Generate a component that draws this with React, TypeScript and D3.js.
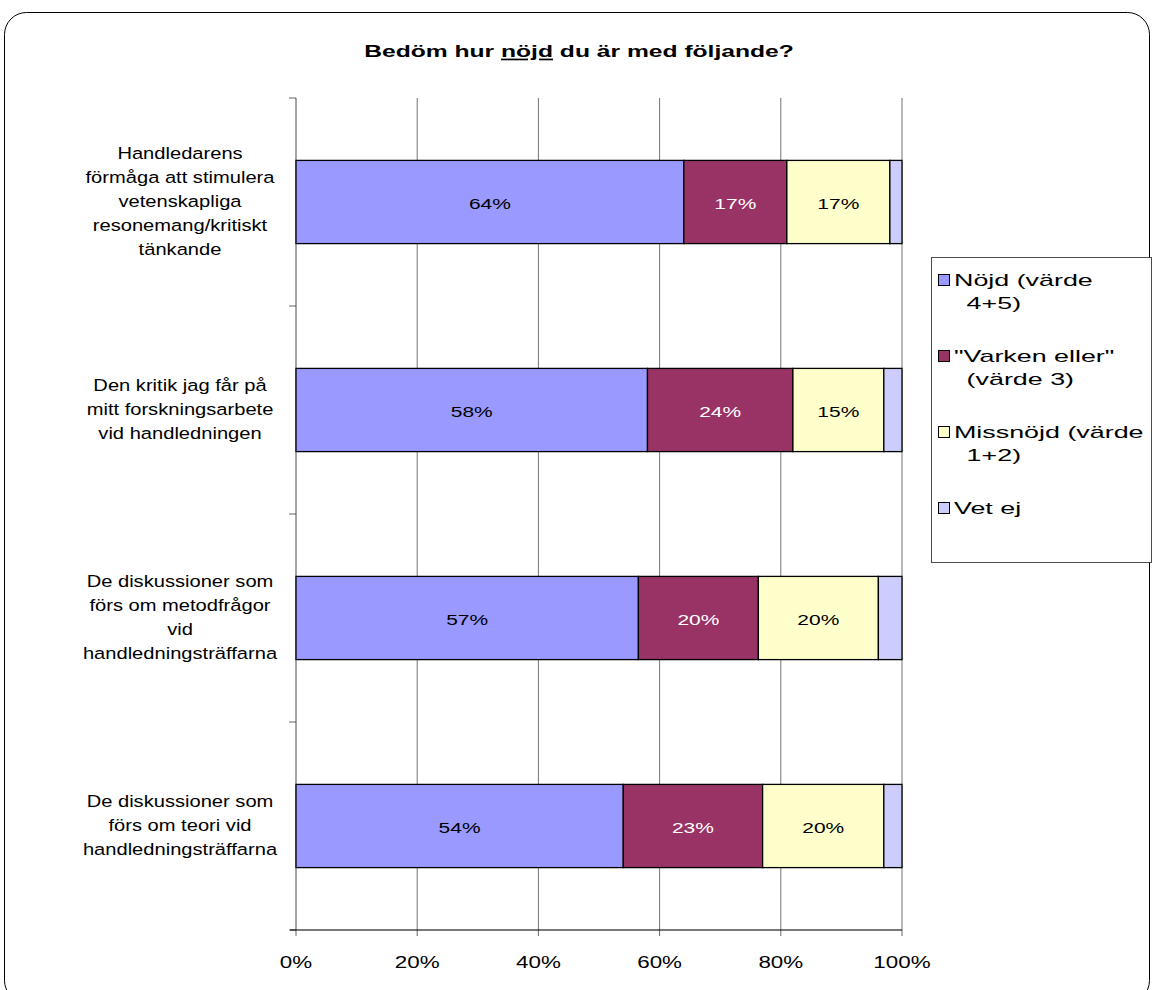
import { useEffect } from "react";
import * as d3 from "d3";

const categories = [
  ["Handledarens", "förmåga att stimulera", "vetenskapliga", "resonemang/kritiskt", "tänkande"],
  ["Den kritik jag får på", "mitt forskningsarbete", "vid handledningen"],
  ["De diskussioner som", "förs om metodfrågor", "vid", "handledningsträffarna"],
  ["De diskussioner som", "förs om teori vid", "handledningsträffarna"],
];
const nojd = [64, 58, 56.5, 54];
const varken = [17, 24, 19.8, 23];
const missnojd = [17, 15, 19.8, 20];
const vetEj = [2, 3, 3.9, 3];

const seriesNames = [["Nöjd (värde", "4+5)"], ['"Varken eller"', "(värde 3)"], ["Missnöjd (värde", "1+2)"], ["Vet ej"]];
const seriesColors = ["#9999FF", "#993366", "#FFFFCC", "#CCCCFF"];
const ticks = [0, 20, 40, 60, 80, 100];

const W = 1154, H = 990;
const left = 296, right = 902, top = 98, bottom = 930;
const font = "Arial, 'Liberation Sans', sans-serif";

// the original picture has its text stretched sideways, so widen it with a scale
function SText({ x, y, sx, anchor = "middle", size = 16, weight = "normal", fill = "#000", children }: any) {
  return (
    <text transform={`translate(${x},${y}) scale(${sx},1)`} textAnchor={anchor} fontFamily={font}
      fontSize={size} fontWeight={weight} fill={fill}>{children}</text>
  );
}

export default function App() {
  useEffect(() => { document.body.style.margin = "0"; }, []);

  const x = d3.scaleLinear().domain([0, 100]).range([left, right]);
  const y = d3.scaleBand<number>().domain(d3.range(categories.length)).range([top, bottom])
    .paddingInner(0.6).paddingOuter(0.3);
  const rows = categories.map((_, i) => ({ i, s0: nojd[i], s1: varken[i], s2: missnojd[i], s3: vetEj[i] }));
  const stacked = d3.stack<any>().keys(["s0", "s1", "s2", "s3"])(rows);
  const step = y.step();

  return (
    <svg width={W} height={H} style={{ display: "block", background: "#fff" }}>
      <rect x={4.5} y={12.5} width={1145} height={990} rx={22} fill="#fff" stroke="#000" strokeWidth={1} />
      <SText x={579} y={57} sx={1.45} size={17} weight="bold">
        Bedöm hur <tspan textDecoration="underline">nöjd</tspan> du är med följande?
      </SText>

      {/* gridlines */}
      {ticks.slice(1).map(t => (
        <line key={t} x1={x(t)} x2={x(t)} y1={top} y2={bottom} stroke="#000" strokeOpacity={0.55} />
      ))}
      <line x1={left} x2={left} y1={top} y2={bottom} stroke="#000" strokeOpacity={0.7} />
      <line x1={left - 6} x2={right} y1={bottom} y2={bottom} stroke="#000" strokeOpacity={0.7} strokeWidth={1.5} />
      {d3.range(categories.length + 1).map(k => (
        <line key={k} x1={left - 7} x2={left} y1={top + k * step} y2={top + k * step} stroke="#000" strokeOpacity={0.6} />
      ))}
      {ticks.map(t => (
        <g key={t}>
          <line x1={x(t)} x2={x(t)} y1={bottom} y2={bottom + 6} stroke="#000" strokeOpacity={0.6} />
          <SText x={x(t)} y={968} sx={1.4} size={16}>{t}%</SText>
        </g>
      ))}

      {/* bars */}
      {stacked.map((layer, si) => layer.map((d, i) => {
        const x0 = x(d[0]), x1 = x(d[1]);
        const yy = y(i)!;
        const v = d[1] - d[0];
        return (
          <g key={`${si}-${i}`}>
            <rect x={x0} y={yy} width={x1 - x0} height={y.bandwidth()} fill={seriesColors[si]} stroke="#000" strokeWidth={1.3} />
            {si < 3 && (
              <SText x={(x0 + x1) / 2} y={yy + y.bandwidth() / 2 + 6.5} sx={1.4} size={15}
                fill={si === 1 ? "#fff" : "#000"}>{Math.round(v)}%</SText>
            )}
          </g>
        );
      }))}

      {/* category labels */}
      {categories.map((lines, i) => {
        const cy = y(i)! + y.bandwidth() / 2;
        const lh = 24;
        const y0 = cy - ((lines.length - 1) * lh) / 2 + 5;
        return (
          <SText key={i} x={180} y={y0} sx={1.22} size={16.5}>
            {lines.map((l, k) => <tspan key={k} x={0} y={k * lh}>{l}</tspan>)}
          </SText>
        );
      })}

      {/* legend */}
      <rect x={931.5} y={257.5} width={220} height={305} fill="#fff" stroke="#000" strokeOpacity={0.7} />
      {seriesNames.map((lines, i) => {
        const ly = 286 + i * 76;
        return (
          <g key={i}>
            <rect x={938.5} y={ly - 11.5} width={11} height={11} fill={seriesColors[i]} stroke="#000" />
            <SText x={954} y={ly} sx={1.58} size={17} anchor="start">
              {lines.map((l, k) => <tspan key={k} x={k === 0 ? 0 : 8} y={k * 23}>{l}</tspan>)}
            </SText>
          </g>
        );
      })}
    </svg>
  );
}
